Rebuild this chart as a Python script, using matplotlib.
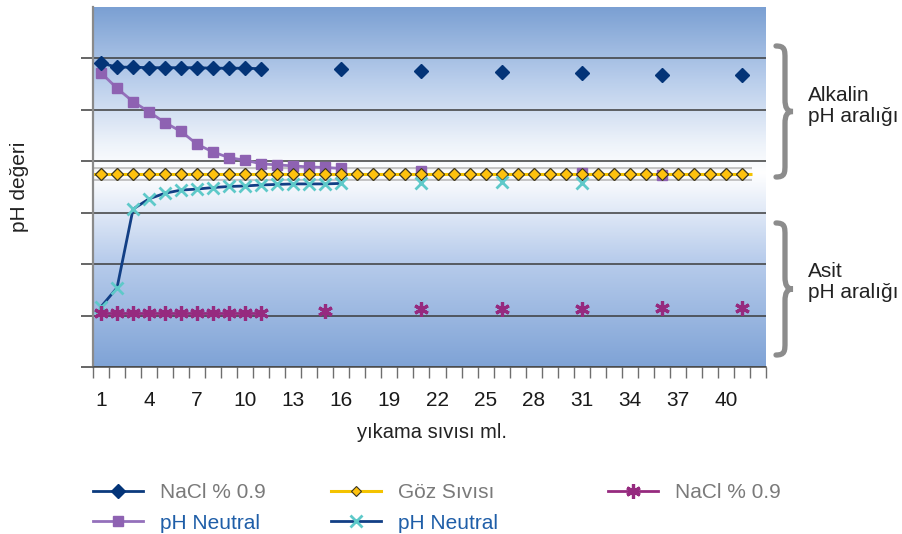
import numpy as np
import pandas as pd
import matplotlib
matplotlib.use("Agg")
import matplotlib.pyplot as plt
from matplotlib.colors import LinearSegmentedColormap
from matplotlib.lines import Line2D
from matplotlib.path import Path
from matplotlib.patches import PathPatch

plt.rcParams['font.family'] = ['Liberation Sans', 'DejaVu Sans']

# yikama sivisi (ml) kategorileri
ml = list(range(1, 43))
tick_ml = list(range(1, 41, 3))

# NaCl % 0.9 (alkalin)
nacl_alk_ml = [1, 2, 3, 4, 5, 6, 7, 8, 9, 10, 11, 16, 21, 26, 31, 36, 41]
nacl_alk_ph = [5.91, 5.83, 5.83, 5.82, 5.82, 5.82, 5.82, 5.81, 5.81, 5.81, 5.80,
               5.79, 5.75, 5.73, 5.71, 5.68, 5.67]

# pH Neutral (alkalinden inen)
neut_alk_ml = [1, 2, 3, 4, 5, 6, 7, 8, 9, 10, 11, 12, 13, 14, 15, 16, 21, 31, 36]
neut_alk_ph = [5.72, 5.42, 5.16, 4.96, 4.75, 4.58, 4.33, 4.18, 4.07, 4.02, 3.95,
               3.93, 3.91, 3.89, 3.88, 3.86, 3.81, 3.77, 3.73]

# Goz Sivisi
goz_ml = list(range(1, 42))
goz_ph = [3.75, 3.75, 3.75, 3.75, 3.75, 3.75, 3.75, 3.75, 3.75, 3.75, 3.75,
          3.75, 3.75, 3.75, 3.75, 3.75, 3.75, 3.75, 3.75, 3.75, 3.75, 3.75,
          3.75, 3.75, 3.75, 3.75, 3.75, 3.75, 3.75, 3.75, 3.75, 3.75, 3.75,
          3.75, 3.75, 3.75, 3.75, 3.75, 3.75, 3.75, 3.75]

# pH Neutral (asitten cikan)
neut_acid_ml = [1, 2, 3, 4, 5, 6, 7, 8, 9, 10, 11, 12, 13, 14, 15, 16, 21, 26, 31]
neut_acid_ph = [1.17, 1.54, 3.07, 3.27, 3.38, 3.44, 3.46, 3.49, 3.51, 3.52, 3.54,
                3.55, 3.56, 3.56, 3.56, 3.57, 3.58, 3.60, 3.58]

# NaCl % 0.9 (asit)
nacl_acid_ml = [1, 2, 3, 4, 5, 6, 7, 8, 9, 10, 11, 15, 21, 26, 31, 36, 41]
nacl_acid_ph = [1.05, 1.05, 1.05, 1.05, 1.05, 1.05, 1.05, 1.05, 1.05, 1.05, 1.05,
                1.09, 1.12, 1.12, 1.13, 1.15, 1.15]


def full(xs, ys):
    # bosluklu seri (Excel gibi kopuk cizgi)
    return pd.Series(ys, index=xs).reindex(ml)


W, H = 903, 534
fig = plt.figure(figsize=(W / 100, H / 100), dpi=100)
ax = fig.add_axes([93 / W, 1 - 367 / H, (766 - 93) / W, (367 - 7) / H])

bg = LinearSegmentedColormap.from_list('bg', [
    (0.0, '#7fa3d6'), (0.30, '#b9cdec'), (0.50, '#f4f7fc'), (0.54, '#ffffff'),
    (0.62, '#eef3fa'), (0.80, '#b8cdeb'), (1.0, '#7ba0d3')])
grad = np.linspace(0, 1, 256).reshape(-1, 1)
ax.imshow(grad, extent=[0.5, 42.5, 0, 7], origin='lower', aspect='auto',
          cmap=bg, zorder=0)

ax.set_xlim(0.5, 42.5)
ax.set_ylim(0, 7)
ax.set_yticks(range(0, 7))
ax.set_yticklabels([])
ax.yaxis.grid(True, color='#3c3c3c', lw=1.1, zorder=1)
ax.tick_params(axis='y', length=9, color='#3c3c3c', width=1.1)
ax.set_xticks(tick_ml)
ax.set_xticklabels([str(t) for t in tick_ml], fontsize=15, color='#1a1a1a')
ax.set_xticks(np.arange(0.5, 43, 1), minor=True)
ax.tick_params(axis='x', which='major', length=0, pad=17)
ax.tick_params(axis='x', which='minor', length=8, color='#6e6e6e', width=1)
for s in ['top', 'right']:
    ax.spines[s].set_visible(False)
ax.spines['left'].set_color('#8a8a8a')
ax.spines['left'].set_linewidth(1.6)
ax.spines['bottom'].set_color('#4a4a4a')
ax.spines['bottom'].set_linewidth(1.1)

# Goz sivisi bandi
band_x = [ml[0] - 0.5, goz_ml[-1] + 0.6]
band_y = [goz_ph[0], goz_ph[0]]
ax.plot(band_x, band_y, color='#c3c3c3', lw=10, solid_capstyle='butt', zorder=2)
ax.plot(band_x, band_y, color='#fbfbfb', lw=7, solid_capstyle='butt', zorder=2)
ax.plot(band_x, band_y, color='#f4c300', lw=2.2, solid_capstyle='butt', zorder=2)

navy = '#0b3a7d'
ax.plot(goz_ml, goz_ph, ls='none', marker='D', ms=6.5, mfc='#ffc20e',
        mec='#3b3520', mew=0.8, zorder=3)

s = full(neut_alk_ml, neut_alk_ph)
h_na, = ax.plot(ml, s.values, color='#9470bb', lw=2, marker='s', ms=7.5,
                mfc='#8e62b2', mec='#8e62b2', zorder=4)
ax.plot(goz_ml, goz_ph, ls='none', marker='D', ms=6.5, mfc='#ffc20e',
        mec='#3b3520', mew=0.8, zorder=4)

s = full(nacl_alk_ml, nacl_alk_ph)
h_nalk, = ax.plot(ml, s.values, color=navy, lw=2, marker='D', ms=7,
                  mfc='#033478', mec='#033478', zorder=5)

s = full(neut_acid_ml, neut_acid_ph)
h_nac, = ax.plot(ml, s.values, color='#123f85', lw=2, marker='x', ms=8.5,
                 mec='#5ec9c9', mew=2, zorder=5)

s = full(nacl_acid_ml, nacl_acid_ph)
h_nacid, = ax.plot(ml, s.values, color='#962a7f', lw=2, marker=(6, 2, 0), ms=10.5,
                   mec='#962a7f', mew=2.3, zorder=6)

h_goz = Line2D([], [], color='#f4c300', lw=2.2, marker='D', ms=5.5,
               mfc='#ffc20e', mec='#3b3520', mew=0.8)


# kume parantezleri
def brace(xl, xv, xt, yt, yb):
    ym = (yt + yb) / 2
    pts = [(xl, yt), (xv, yt), (xv, yt + 4), (xv, yt + 13),
           (xv, ym - 12),
           (xv, ym - 4), (xv + 2, ym), (xt, ym),
           (xv + 2, ym), (xv, ym + 4), (xv, ym + 12),
           (xv, yb - 13),
           (xv, yb - 4), (xv, yb), (xl, yb)]
    codes = [Path.MOVETO, Path.CURVE4, Path.CURVE4, Path.CURVE4,
             Path.LINETO,
             Path.CURVE4, Path.CURVE4, Path.CURVE4,
             Path.CURVE4, Path.CURVE4, Path.CURVE4,
             Path.LINETO,
             Path.CURVE4, Path.CURVE4, Path.CURVE4]
    verts = [(x / W, 1 - y / H) for x, y in pts]
    fig.add_artist(PathPatch(Path(verts, codes), fill=False, lw=3.8,
                             ec='#8c8c8c', capstyle='round',
                             transform=fig.transFigure))


brace(776, 785, 793, 46, 177)
brace(776, 785, 793, 223, 355)
fig.text(808 / W, 1 - 106 / H, 'Alkalin\npH aralığı', fontsize=15,
         color='#222222', ha='left', va='center', linespacing=1.1)
fig.text(808 / W, 1 - 282 / H, 'Asit\npH aralığı', fontsize=15,
         color='#222222', ha='left', va='center', linespacing=1.1)

fig.text(20 / W, 1 - 187 / H, 'pH değeri', rotation=90, fontsize=15,
         color='#222222', ha='center', va='center')
fig.text(432 / W, 1 - 432 / H, 'yıkama sıvısı ml.', fontsize=14.5,
         color='#222222', ha='center', va='center')

# lejant: uc sutun
gray_txt = '#7a7a7a'
blue_txt = '#1f5ea8'
columns = [
    (93, [h_nalk, h_na], ['NaCl % 0.9', 'pH Neutral'], [gray_txt, blue_txt]),
    (331, [h_goz, h_nac], ['Göz Sıvısı', 'pH Neutral'], [gray_txt, blue_txt]),
    (608, [h_nacid], ['NaCl % 0.9'], [gray_txt]),
]
for x0, hs, labs, cols in columns:
    leg = fig.legend(hs, labs, loc='upper left', bbox_to_anchor=(x0 / W, 1 - 483 / H),
                     frameon=False, fontsize=15, handlelength=2.4,
                     handletextpad=0.8, labelspacing=0.56, borderpad=0,
                     borderaxespad=0, numpoints=1)
    for t, c in zip(leg.get_texts(), cols):
        t.set_color(c)

fig.savefig('out.png', dpi=100)
